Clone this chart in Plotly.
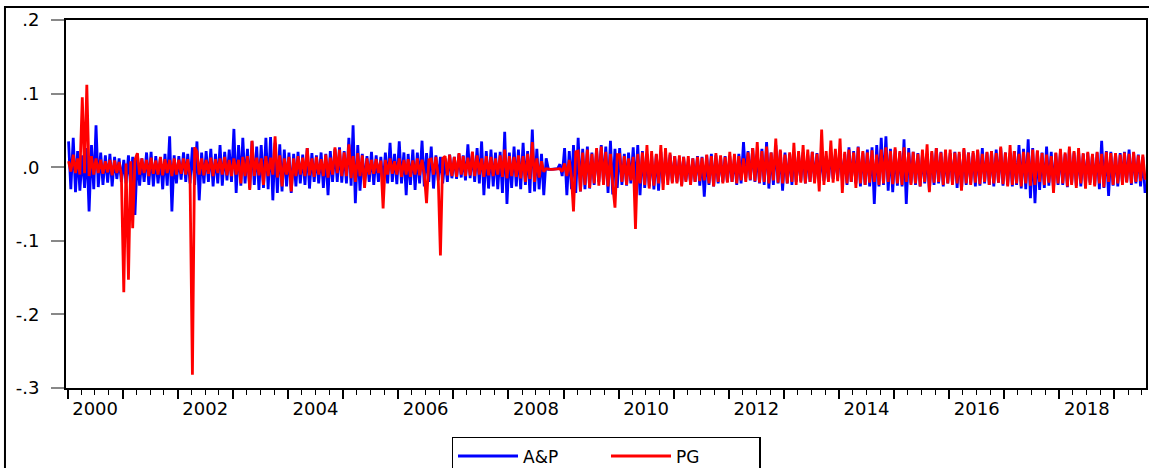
import pandas as pd
import plotly.graph_objects as go

series_names = ["A&P", "PG"]
y_tickvals = [0.2, 0.1, 0.0, -0.1, -0.2, -0.3]
y_ticktext = [".2", ".1", ".0", "-.1", "-.2", "-.3"]
label_years = list(range(2000, 2019, 2))
tick_years = list(range(2000, 2020))

# Semi-monthly readings (two per month: around day 8 and day 23), Jan 2000 - Jul 2019
ap_returns = [
    .035,-.030, .040,-.034, .022,-.032, .016,-.028, .026,-.060, .030,-.030, .057,-.027, .020,-.024, .016,-.021, .018,-.026, .014,-.016, .012,-.020,
    .010,-.022, .016,-.028, .014,-.065, .018,-.025, .012,-.020, .020,-.024, .021,-.026, .015,-.022, .013,-.030, .018,-.025, .042,-.060, .016,-.022,
    .015,-.017, .020,-.020, .018,-.022, .027,-.024, .035,-.045, .020,-.022, .022,-.020, .025,-.026, .018,-.022, .030,-.025, .021,-.018, .024,-.020,
    .052,-.035, .030,-.025, .040,-.022, .025,-.029, .035,-.024, .028,-.031, .030,-.028, .040,-.030, .041,-.045, .033,-.035, .031,-.033, .024,-.026,
    .020,-.035, .018,-.026, .021,-.022, .017,-.024, .026,-.029, .019,-.020, .016,-.022, .020,-.028, .018,-.038, .022,-.020, .025,-.020, .027,-.021,
    .022,-.022, .040,-.025, .057,-.049, .030,-.032, .018,-.022, .015,-.020, .021,-.024, .016,-.020, .014,-.026, .020,-.022, .033,-.020, .018,-.023,
    .035,-.022, .020,-.038, .018,-.024, .024,-.031, .020,-.022, .036,-.026, .019,-.020, .028,-.029, .016,-.018, .014,-.022, .012,-.020, .017,-.015,
    .014,-.016, .018,-.014, .016,-.018, .031,-.015, .020,-.020, .026,-.022, .035,-.038, .022,-.029, .024,-.026, .020,-.030, .021,-.035, .048,-.050,
    .020,-.028, .028,-.026, .024,-.030, .033,-.024, .022,-.035, .051,-.033, .025,-.030, .018,-.038, .012,-.003, -.003,-.003, -.003,-.002, .004,-.012,
    .026,-.038, .022,-.030, .030,-.035, .040,-.033, .025,-.030, .028,-.029, .020,-.024, .024,-.020, .030,-.021, .028,-.035, .036,-.037, .025,-.028,
    .026,-.024, .018,-.025, .020,-.022, .027,-.030, .030,-.038, .022,-.028, .018,-.026, .015,-.030, .017,-.032, .021,-.022, .016,-.018, .017,-.020,
    .015,-.020, .012,-.024, .014,-.018, .008,-.022, .012,-.020, .015,-.025, .014,-.040, .016,-.024, .018,-.026, .016,-.022, .014,-.020, .015,-.020,
    .015,-.020, .013,-.024, .018,-.022, .034,-.015, .022,-.018, .026,-.020, .018,-.022, .025,-.024, .034,-.029, .020,-.024, .030,-.022, .022,-.032,
    .020,-.022, .018,-.024, .021,-.020, .018,-.019, .020,-.022, .016,-.020, .021,-.018, .019,-.021, .017,-.019, .015,-.018, .020,-.016, .018,-.015,
    .020,-.018, .018,-.024, .027,-.020, .022,-.022, .028,-.026, .020,-.024, .024,-.026, .027,-.050, .030,-.026, .040,-.024, .042,-.032, .025,-.034,
    .024,-.025, .020,-.026, .038,-.050, .026,-.022, .021,-.024, .019,-.026, .018,-.022, .017,-.032, .020,-.024, .026,-.022, .021,-.026, .018,-.022,
    .019,-.022, .021,-.028, .018,-.031, .024,-.024, .020,-.022, .019,-.026, .023,-.025, .026,-.022, .020,-.024, .022,-.026, .024,-.021, .026,-.025,
    .020,-.024, .019,-.026, .022,-.024, .030,-.029, .025,-.030, .038,-.042, .026,-.049, .022,-.031, .020,-.028, .028,-.025, .021,-.029, .019,-.024,
    .021,-.024, .018,-.027, .025,-.022, .020,-.025, .021,-.026, .018,-.022, .019,-.021, .017,-.024, .020,-.030, .036,-.028, .022,-.039, .021,-.025,
    .018,-.026, .019,-.022, .021,-.020, .024,-.024, .020,-.022, .017,-.026, .014,-.035,
]

pg_returns = [
    .008,-.006, .017,-.008, .012,-.010, .095,-.008, .112,-.012, .015,-.010, .012,-.008, .010,-.009, .008,-.007, .010,-.011, .009,-.008, .007,-.010,
    -.170,.005, -.153,.008, -.083,.010, .019,-.010, .012,-.008, .010,-.012, .013,-.009, .009,-.010, .014,-.011, .011,-.008, .010,-.012, .012,-.010,
    .010,-.009, .012,-.010, .011,-.012, -.282,.027, .021,-.010, .012,-.011, .010,-.009, .013,-.012, .011,-.008, .012,-.010, .014,-.011, .010,-.012,
    .012,-.010, .010,-.022, .014,-.012, .015,-.031, .036,-.012, .013,-.011, .012,-.024, .015,-.012, .013,-.010, .042,-.014, .016,-.026, .012,-.010,
    .014,-.033, .012,-.012, .015,-.010, .013,-.012, .026,-.011, .012,-.013, .014,-.010, .011,-.012, .017,-.014, .013,-.010, .027,-.008, .024,-.012,
    .020,-.012, .031,-.015, .015,-.020, .019,-.012, .016,-.028, .012,-.010, .010,-.009, .011,-.008, .009,-.056, .010,-.010, .012,-.009, .008,-.010,
    .012,-.013, .010,-.010, .011,-.013, .009,-.010, .012,-.011, .010,-.009, -.049,.010, .011,-.010, .014,-.012, -.120,.012, .015,-.011, .017,-.012,
    .014,-.013, .019,-.010, .015,-.012, .013,-.011, .021,-.012, .016,-.010, .012,-.013, .015,-.011, .014,-.012, .012,-.010, .016,-.013, .024,-.015,
    .015,-.012, .014,-.013, .016,-.015, .015,-.020, .018,-.016, .034,-.020, .012,-.014, .008,-.006, -.002,-.003, -.003,-.003, -.003,-.003, -.002,-.006,
    .005,-.012, .010,-.015, -.060,.021, .022,-.033, .020,-.024, .024,-.028, .018,-.022, .026,-.025, .028,-.024, .021,-.026, .018,-.024, -.055,.017,
    .017,-.020, .015,-.024, .012,-.018, .014,-.084, .018,-.022, .020,-.024, .030,-.029, .022,-.025, .018,-.022, .030,-.031, .026,-.024, .020,-.022,
    .015,-.022, .016,-.026, .014,-.020, .015,-.024, .012,-.020, .014,-.019, .013,-.018, .017,-.022, .015,-.026, .019,-.020, .016,-.022, .014,-.021,
    .021,-.020, .018,-.022, .015,-.018, .012,-.020, .020,-.017, .026,-.019, .034,-.021, .022,-.020, .028,-.022, .020,-.018, .039,-.021, .024,-.022,
    .017,-.022, .020,-.020, .033,-.024, .022,-.021, .030,-.022, .024,-.020, .021,-.022, .018,-.033, .051,-.024, .022,-.020, .036,-.021, .025,-.019,
    .039,-.035, .021,-.022, .024,-.020, .020,-.028, .027,-.022, .022,-.024, .020,-.021, .023,-.020, .017,-.024, .024,-.022, .027,-.020, .022,-.023,
    .027,-.022, .022,-.024, .027,-.020, .020,-.024, .021,-.022, .018,-.026, .024,-.020, .031,-.034, .022,-.021, .026,-.020, .020,-.024, .024,-.022,
    .024,-.024, .020,-.022, .021,-.032, .026,-.022, .020,-.024, .022,-.021, .024,-.023, .018,-.020, .021,-.024, .022,-.022, .019,-.021, .028,-.023,
    .020,-.026, .030,-.024, .022,-.022, .018,-.026, .021,-.022, .020,-.025, .024,-.024, .023,-.020, .019,-.024, .017,-.021, .015,-.035, .020,-.022,
    .025,-.022, .020,-.026, .028,-.024, .022,-.028, .026,-.022, .019,-.029, .021,-.024, .018,-.026, .021,-.022, .018,-.027, .021,-.020, .019,-.024,
    .019,-.022, .017,-.024, .020,-.021, .018,-.022, .021,-.020, .016,-.019, .017,-.017,
]

months = pd.date_range("2000-01-01", "2019-07-01", freq="MS")
dates = []
for m in months:
    dates.append(m + pd.Timedelta(days=7))
    dates.append(m + pd.Timedelta(days=22))

assert len(ap_returns) == len(dates), (len(ap_returns), len(dates))
assert len(pg_returns) == len(dates), (len(pg_returns), len(dates))

x_range = ["1999-12-22", "2019-07-29"]
font_family = "DejaVu Sans, Liberation Sans, Arial, sans-serif"

fig = go.Figure()
fig.add_trace(go.Scatter(x=dates, y=ap_returns, mode="lines", name=series_names[0],
                         line=dict(color="#0000FF", width=2.8), xaxis="x", yaxis="y"))
fig.add_trace(go.Scatter(x=dates, y=pg_returns, mode="lines", name=series_names[1],
                         line=dict(color="#FF0000", width=2.8), xaxis="x2", yaxis="y"))

fig.update_layout(
    width=1149, height=468,
    margin=dict(l=66, r=3, t=20, b=80, autoexpand=False),
    paper_bgcolor="white", plot_bgcolor="white",
    font=dict(family=font_family, size=18, color="black"),
    showlegend=True,
    legend=dict(orientation="h", x=0.5, xanchor="center", y=-0.133, yanchor="top",
                bordercolor="black", borderwidth=1.5, font=dict(size=17),
                itemwidth=60, entrywidth=78, entrywidthmode="pixels", bgcolor="white"),
    # main x axis: year ticks (long) and quarter ticks (short), no labels
    xaxis=dict(type="date", range=x_range,
               tickmode="array", tickvals=[f"{y}-01-01" for y in tick_years],
               showticklabels=False, ticks="outside", ticklen=9, tickwidth=1.5,
               tickcolor="black", showgrid=False, zeroline=False,
               showline=True, linecolor="black", linewidth=2, mirror=True,
               minor=dict(tickmode="linear", tick0="2000-01-01", dtick="M3",
                          ticks="outside", ticklen=5, tickwidth=1.2, tickcolor="black",
                          showgrid=False)),
    # overlaid x axis carrying the year labels centred in their year
    xaxis2=dict(type="date", range=x_range, overlaying="x", anchor="y", side="bottom",
                tickmode="array",
                tickvals=[f"{y}-07-02" for y in label_years],
                ticktext=[str(y) for y in label_years],
                ticks="", showgrid=False, showline=False, zeroline=False,
                tickfont=dict(size=18), ticklabelstandoff=8),
    yaxis=dict(range=[-0.3, 0.2], tickmode="array", tickvals=y_tickvals, ticktext=y_ticktext,
               ticks="outside", ticklen=13, tickwidth=1.5, tickcolor="#888888",
               showgrid=False, zeroline=False,
               showline=True, linecolor="black", linewidth=2, mirror=True,
               tickfont=dict(size=18), ticklabelstandoff=8),
    shapes=[dict(type="rect", xref="paper", yref="paper",
                 x0=-0.0565, x1=1.05, y0=-0.35, y1=1.0353,
                 line=dict(color="black", width=2), layer="below")],
)

fig.write_html("out.html")
